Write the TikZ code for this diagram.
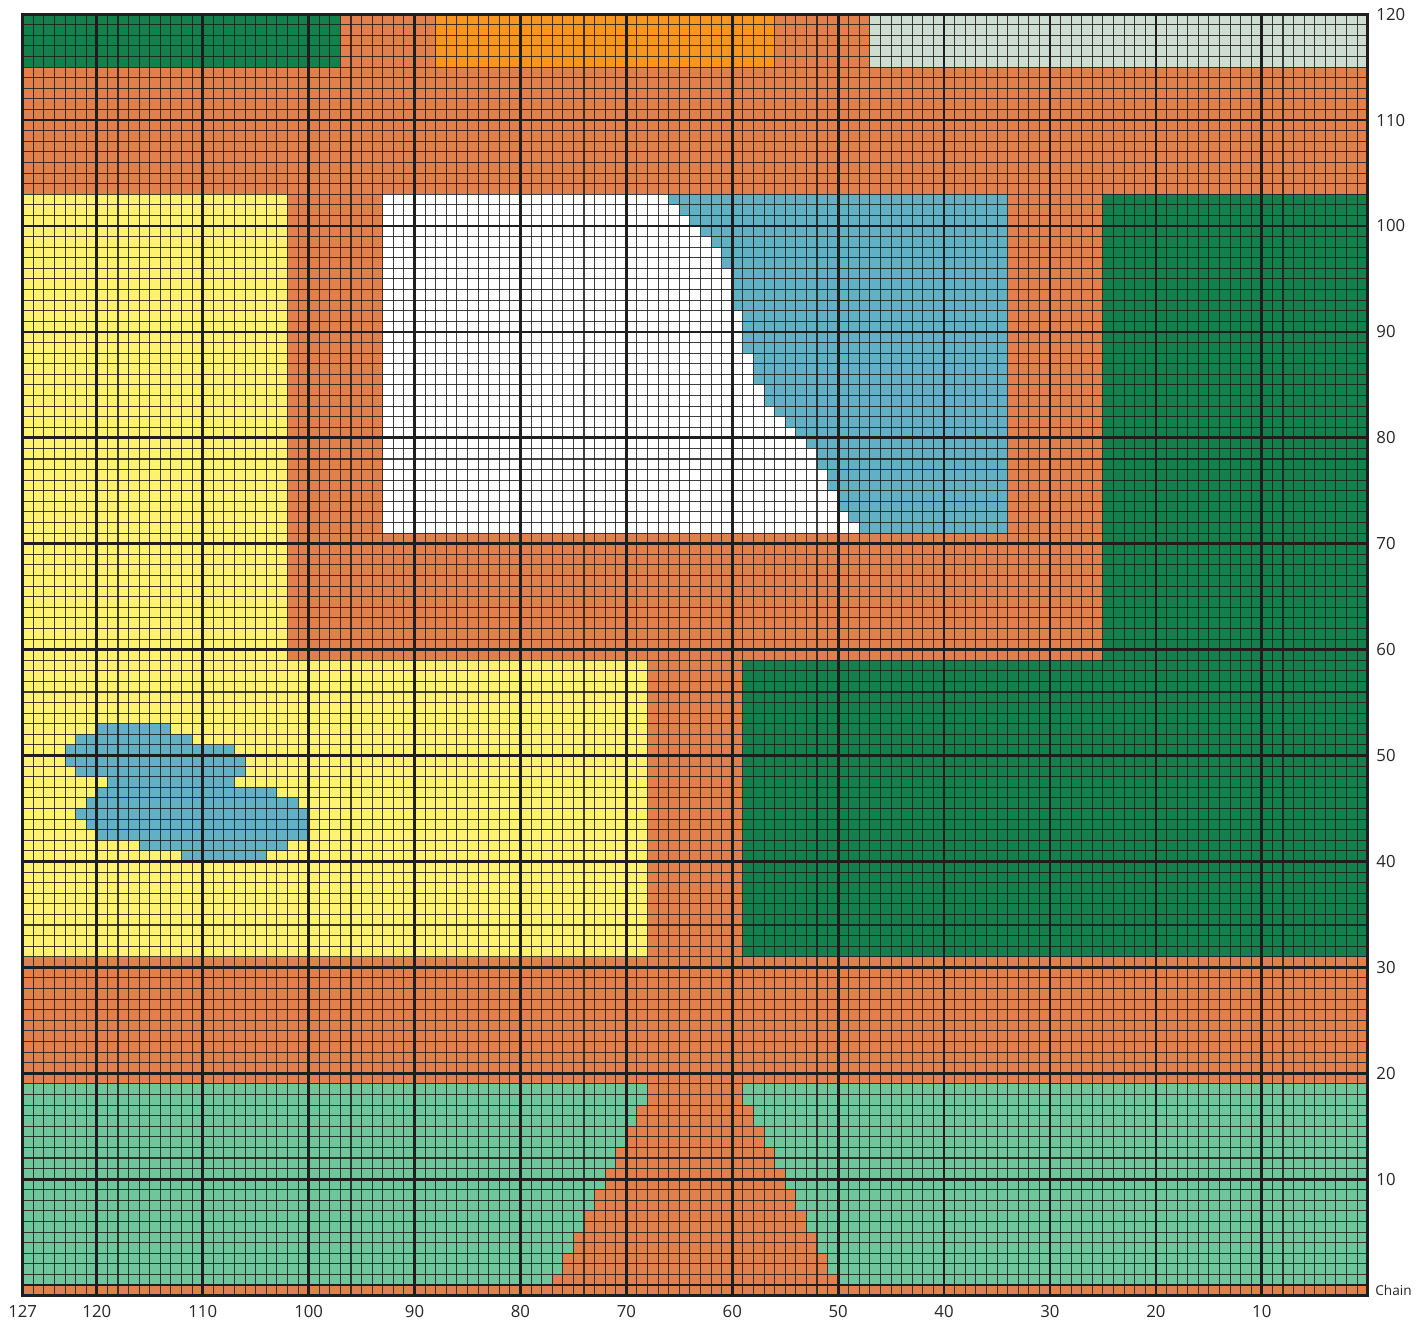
\documentclass[tikz,border=0pt]{standalone}
\usepackage{fontspec}
\setmainfont{Open Sans}
\definecolor{terra}{RGB}{225,128,76}
\definecolor{dgreen}{RGB}{20,128,75}
\definecolor{yel}{RGB}{255,242,110}
\definecolor{blu}{RGB}{98,176,196}
\definecolor{lgreen}{RGB}{111,198,155}
\definecolor{lgray}{RGB}{205,222,209}
\definecolor{orng}{RGB}{246,150,30}
\definecolor{gridc}{RGB}{30,30,30}
\tikzset{
  gridthin/.style={draw=gridc, line width=0.85pt, opacity=0.85},
  gridthick/.style={draw=gridc, line width=2.2pt},
  lbl/.style={inner sep=0pt, font=\fontsize{13.5}{15}\selectfont, text=black!85},
  chainlbl/.style={inner sep=0pt, font=\fontsize{11}{13}\selectfont, text=black!85}
}
\begin{document}
\begin{tikzpicture}[x=0.3cm,y=0.3cm]
\useasboundingbox (-2.14,-3.68) rectangle (132.6,121.34);
% base
\fill[terra] (0,-1) rectangle (127,120);
% top band
\fill[dgreen] (0,115) rectangle (30,120);
\fill[orng] (39,115) rectangle (71,120);
\fill[lgray] (80,115) rectangle (127,120);
% yellow
\fill[yel] (0,31) -- (59,31) -- (59,59) -- (25,59) -- (25,103) -- (0,103) -- cycle;
% white and blue
\fill[white] (34,71) rectangle (93,103);
\fill[blu] (93,103) -- (93,71) -- (79,71) -- (79,72) -- (78,72) -- (78,73) -- (77,73) -- (77,75) -- (76,75) -- (76,77) -- (75,77) -- (75,79) -- (74,79) -- (74,80) -- (73,80) -- (73,81) -- (72,81) -- (72,82) -- (71,82) -- (71,83) -- (70,83) -- (70,85) -- (69,85) -- (69,88) -- (68,88) -- (68,92) -- (67,92) -- (67,96) -- (66,96) -- (66,98) -- (65,98) -- (65,99) -- (64,99) -- (64,100) -- (63,100) -- (63,101) -- (62,101) -- (62,102) -- (61,102) -- (61,103) -- cycle;
% dark green
\fill[dgreen] (68,31) -- (127,31) -- (127,103) -- (102,103) -- (102,59) -- (68,59) -- cycle;
% blob
\foreach \r/\a/\b in {52/7/14,51/5/16,50/4/20,49/4/21,48/5/21,47/8/20,46/7/24,45/6/26,44/5/27,43/6/27,42/7/27,41/11/25,40/15/23}
  \fill[blu] (\a,\r) rectangle (\b,\r+1);
% bottom light green with triangle
\fill[lgreen] (0,0) rectangle (127,19);
\fill[terra] (59,19) -- (59,17) -- (58,17) -- (58,15) -- (57,15) -- (57,13) -- (56,13) -- (56,11) -- (55,11) -- (55,9) -- (54,9) -- (54,7) -- (53,7) -- (53,5) -- (52,5) -- (52,3) -- (51,3) -- (51,1) -- (50,1) -- (50,0) -- (77,0) -- (77,1) -- (76,1) -- (76,3) -- (75,3) -- (75,5) -- (74,5) -- (74,7) -- (73,7) -- (73,9) -- (72,9) -- (72,11) -- (71,11) -- (71,13) -- (70,13) -- (70,15) -- (69,15) -- (69,17) -- (68,17) -- (68,19) -- cycle;
% grid
\foreach \i in {1,...,126} \draw[gridthin] (\i,-1) -- (\i,120);
\foreach \j in {0,...,119} \draw[gridthin] (0,\j) -- (127,\j);
\foreach \i in {7,17,...,117} \draw[gridthick] (\i,-1) -- (\i,120);
\foreach \j in {10,20,...,110} \draw[gridthick] (0,\j) -- (127,\j);
\draw[gridthick, line width=1.6pt] (0,0) -- (127,0);
\draw[gridthick] (0,-1) rectangle (127,120);
% labels
\foreach \n in {10,20,...,120} \node[lbl, anchor=west] (r\n) at (127.8,\n) {\n};
\node[chainlbl, anchor=west] (chain) at (127.7,-0.5) {Chain};
\node[lbl] (b127) at (0,-2.5) {127};
\foreach \n in {10,20,...,120} \node[lbl] (b\n) at ({127-\n},-2.5) {\n};
\end{tikzpicture}
\end{document}
